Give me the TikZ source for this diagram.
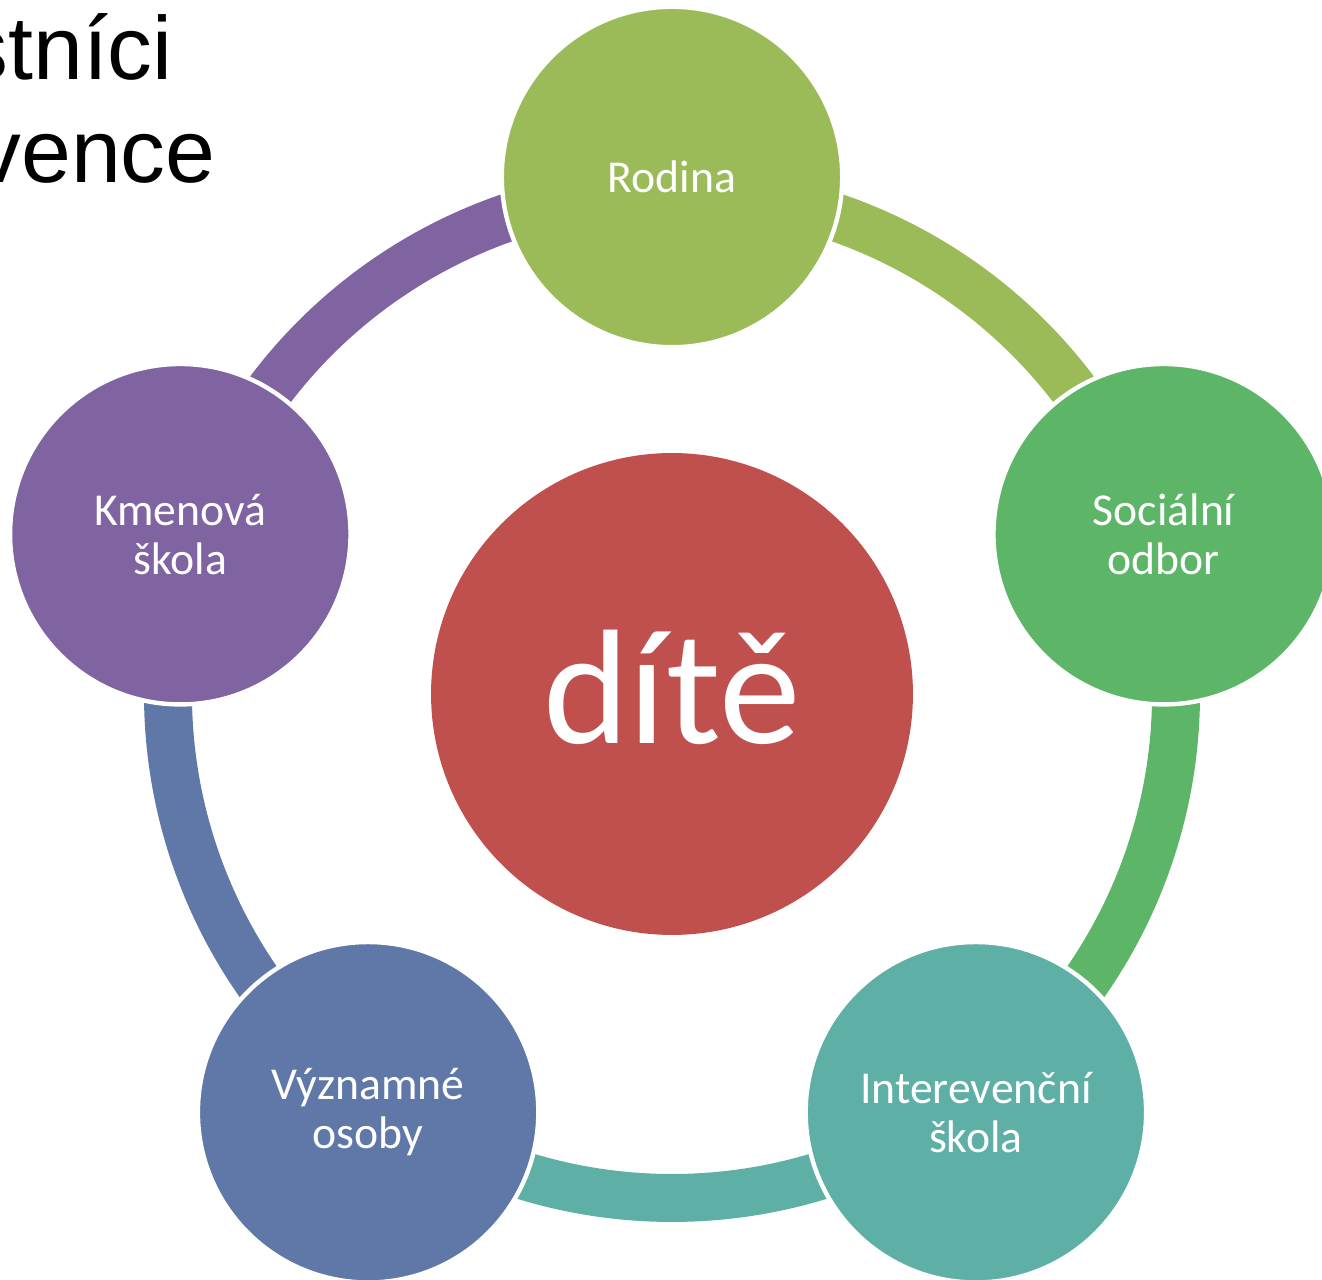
\documentclass[tikz,border=0pt]{standalone}
\usepackage{fontspec}
\setmainfont{Carlito}
\newfontfamily\titlefont{Liberation Sans}
\definecolor{cRodina}{HTML}{9BBB59}
\definecolor{cSocial}{HTML}{5DB567}
\definecolor{cInter}{HTML}{5EAFA6}
\definecolor{cOsoby}{HTML}{6078A8}
\definecolor{cKmen}{HTML}{8064A2}
\definecolor{cDite}{HTML}{C0504D}
\tikzset{
  member/.style={circle, fill=#1, draw=white, line width=2.5pt, minimum size=6.81cm,
    inner sep=0pt, text=white, align=center, font=\fontsize{26}{28}\selectfont},
  ring/.style={draw=#1, line width=27.3pt},
}
\begin{document}
\begin{tikzpicture}[x=0.02cm, y=0.02cm]
      \path[use as bounding box] (0,0) rectangle (1322,1280);
      % title, cut at the left edge
      \node[anchor=base east, inner sep=0pt, font=\titlefont\fontsize{51}{58}\selectfont] (t1) at (173,1200) {stníci};
      \node[anchor=base east, inner sep=0pt, font=\titlefont\fontsize{51}{58}\selectfont] (t2) at (216,1097) {vence};
      \begin{scope}[shift={(672,586)}]
        \coordinate (r0) at (90:504);
        \coordinate (r1) at (18:504);
        \coordinate (r2) at (-54:504);
        \coordinate (r3) at (-126:504);
        \coordinate (r4) at (162:504);
        \draw[ring=cRodina] (r0) arc[start angle=90, end angle=18, radius=504];
        \draw[ring=cSocial] (r1) arc[start angle=18, end angle=-54, radius=504];
        \draw[ring=cInter] (r2) arc[start angle=-54, end angle=-126, radius=504];
        \draw[ring=cOsoby] (r3) arc[start angle=-126, end angle=-198, radius=504];
        \draw[ring=cKmen] (r4) arc[start angle=162, end angle=90, radius=504];
        \node[circle, fill=cDite, minimum size=9.64cm, inner sep=0pt, text=white,
          font=\fontsize{93}{100}\selectfont] (dite) at (0,0) {\raisebox{8pt}{dítě}};
        \draw
          (90:517) node[member=cRodina] (rodina) {Rodina}
          (18:517) node[member=cSocial] (social) {Sociální\\odbor}
          (-54:517) node[member=cInter] (inter) {Interevenční\\škola}
          (-126:517) node[member=cOsoby] (osoby) {Významné\\osoby}
          (162:517) node[member=cKmen] (kmen) {Kmenová\\škola};
      \end{scope}
    \end{tikzpicture}
\end{document}
